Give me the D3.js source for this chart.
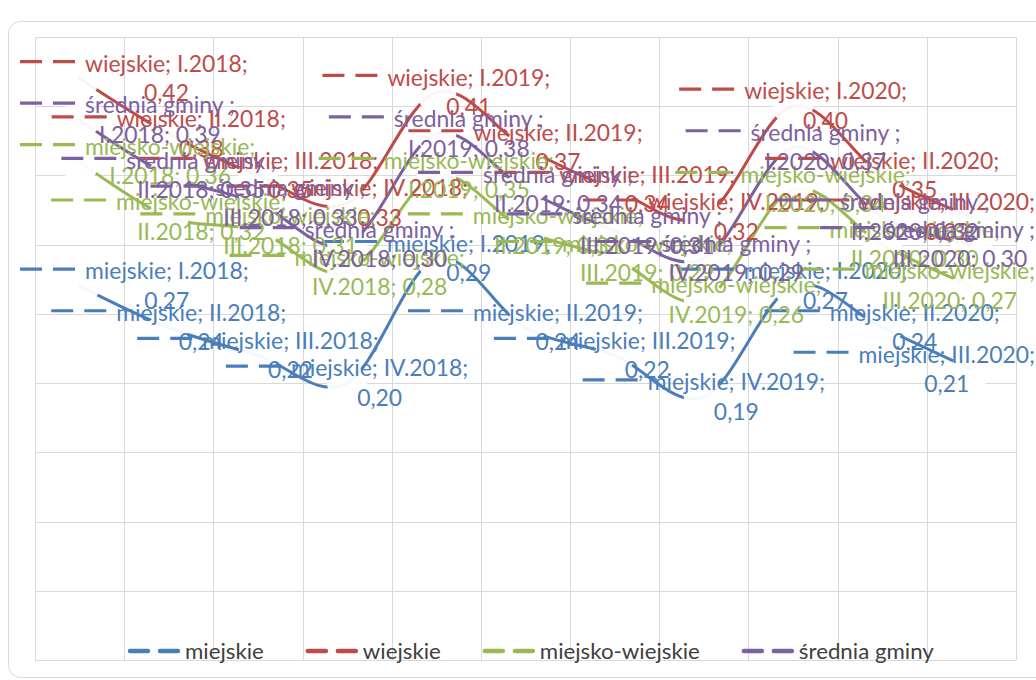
<!DOCTYPE html>
<html>
<head>
<meta charset="utf-8">
<title>Wskaźnik</title>
<style>
    body{ margin:0; background:#fff; }
    .grid line{ stroke:#d9d9d9; stroke-width:1; shape-rendering:crispEdges; }
    .series{ fill:none; stroke-width:3; stroke-linejoin:round; stroke-linecap:round; }
    .mask{ fill:#fff; fill-opacity:0.94; }
    .lbl{ font-family:Lato, "Open Sans", sans-serif; }
    .legend text{ font-family:Lato, sans-serif; fill:#404040; }
</style>
</head>
<body>
<script src="https://cdnjs.cloudflare.com/ajax/libs/d3/7.8.5/d3.min.js"></script>
<script>
var width = 1036, height = 680;

// dane
var categories = ["I.2018","II.2018","III.2018","IV.2018","I.2019","II.2019","III.2019","IV.2019","I.2020","II.2020","III.2020"];
var seriesNames = ["miejskie","wiejskie","miejsko-wiejskie","średnia gminy "];
var miejskie        = [0.27,0.24,0.22,0.20,0.29,0.24,0.22,0.19,0.27,0.24,0.21];
var wiejskie        = [0.42,0.38,0.35,0.33,0.41,0.37,0.34,0.32,0.40,0.35,0.32];
var miejskoWiejskie = [0.36,0.32,0.31,0.28,0.35,0.31,0.29,0.26,0.34,0.30,0.27];
var sredniaGminy    = [0.39,0.35,0.33,0.30,0.38,0.34,0.31,0.29,0.37,0.32,0.30];
var yTicks = [0,0.05,0.10,0.15,0.20,0.25,0.30,0.35,0.40,0.45];

var colors = ["#4a7ebb","#be4b48","#98b954","#7d60a0"];
var seriesValues = [miejskie, wiejskie, miejskoWiejskie, sredniaGminy];

var plot = {left:35, right:1016, top:37, bottom:660};

var svg = d3.select("body").append("svg")
            .attr("width", width)
            .attr("height", height);

// ramka wykresu
svg.append("rect")
   .attr("x", 8.5).attr("y", 21.5)
   .attr("width", 1045).attr("height", 656)
   .attr("rx", 12)
   .attr("fill", "#fff")
   .attr("stroke", "#d9d9d9");

var x = d3.scaleBand().domain(categories).range([plot.left, plot.right]);
var y = d3.scaleLinear().domain([0, 0.45]).range([plot.bottom, plot.top]);
function cx(c){ return x(c) + x.bandwidth()/2; }

// siatka
var grid = svg.append("g").attr("class","grid");
grid.selectAll("line.h").data(yTicks).enter().append("line")
    .attr("x1", plot.left).attr("x2", plot.right)
    .attr("y1", function(d){ return Math.round(y(d))+0.5; })
    .attr("y2", function(d){ return Math.round(y(d))+0.5; });
var vx = categories.map(function(c){ return x(c); }).concat([plot.right]);
grid.selectAll("line.v").data(vx).enter().append("line")
    .attr("x1", function(d){ return Math.round(d)+0.5; })
    .attr("x2", function(d){ return Math.round(d)+0.5; })
    .attr("y1", plot.top).attr("y2", plot.bottom);

// linie (wygładzone)
var line = d3.line()
    .x(function(d,i){ return cx(categories[i]); })
    .y(function(d){ return y(d); })
    .curve(d3.curveCardinal.tension(0));

svg.append("g").selectAll("path").data(seriesValues).enter().append("path")
   .attr("class","series")
   .attr("stroke", function(d,i){ return colors[i]; })
   .attr("d", line);

// białe tła etykiet w punktach
var pts = [];
seriesValues.forEach(function(vals, s){
    vals.forEach(function(v, i){ pts.push({s:s, i:i, v:v}); });
});
svg.append("g").selectAll("circle").data(pts).enter().append("circle")
   .attr("class","mask")
   .attr("cx", function(d){ return cx(categories[d.i]); })
   .attr("cy", function(d){ return y(d.v); })
   .attr("r", 20);

// rozmiar czcionki dobrany do szerokości tekstu z oryginału
var probe = svg.append("text").attr("class","lbl").style("font-size","20px").text("wiejskie; I.2018;");
var fs = 20 * 163 / probe.node().getComputedTextLength();
probe.remove();

function measure(t){
    var n = svg.append("text").attr("class","lbl").style("font-size", fs+"px").text(t);
    var w = n.node().getComputedTextLength();
    n.remove();
    return w;
}
function fmt(v){ return d3.format(".2f")(v).replace(".", ","); }

var keyW = 55, keyGap = 10;
var labels = svg.append("g");
pts.forEach(function(p){
    var name = seriesNames[p.s], cat = categories[p.i];
    var r1, r2;
    if (name.length > 10) { r1 = name + ";"; r2 = cat + "; " + fmt(p.v); }
    else { r1 = name + "; " + cat + ";"; r2 = fmt(p.v); }
    var tw = Math.max(measure(r1), measure(r2));
    var bw = keyW + keyGap + tw;
    var px = cx(cat), py = y(p.v);
    var left = px - bw/2;
    if (left < 20) left = 20;
    if (left + bw > 1035) left = 1035 - bw;
    var row1 = py - 15, row2 = py + 14.5;
    var g = labels.append("g").attr("fill", colors[p.s]);
    g.append("line")
     .attr("x1", left).attr("x2", left + keyW)
     .attr("y1", row1 - 2).attr("y2", row1 - 2)
     .attr("stroke", colors[p.s]).attr("stroke-width", 3.2)
     .attr("stroke-dasharray", "22,11");
    var tx = left + keyW + keyGap + tw/2;
    g.append("text").attr("class","lbl").style("font-size", fs+"px")
     .attr("x", tx).attr("y", row1 + fs*0.36).attr("text-anchor","middle").text(r1);
    g.append("text").attr("class","lbl").style("font-size", fs+"px")
     .attr("x", tx).attr("y", row2 + fs*0.36).attr("text-anchor","middle").text(r2);
});

// legenda
var legend = svg.append("g").attr("class","legend");
var lx = 128, ly = 651;
var lprobe = legend.append("text").style("font-size","22px").text("miejsko-wiejskie");
var lscale = 160 / lprobe.node().getComputedTextLength();
lprobe.remove();
seriesNames.forEach(function(n, i){
    var name = n.trim();
    legend.append("line")
          .attr("x1", lx + 2).attr("x2", lx + 50)
          .attr("y1", ly).attr("y2", ly)
          .attr("stroke", colors[i]).attr("stroke-width", 4.5)
          .attr("stroke-linecap","round")
          .attr("stroke-dasharray", "18,12");
    var t = legend.append("text").style("font-size","22px")
          .attr("x", lx + 57).attr("y", ly + 8).text(name);
    var w = t.node().getComputedTextLength() * lscale;
    t.attr("textLength", w).attr("lengthAdjust","spacingAndGlyphs");
    lx += 57 + w + 42;
});
</script>
</body>
</html>
